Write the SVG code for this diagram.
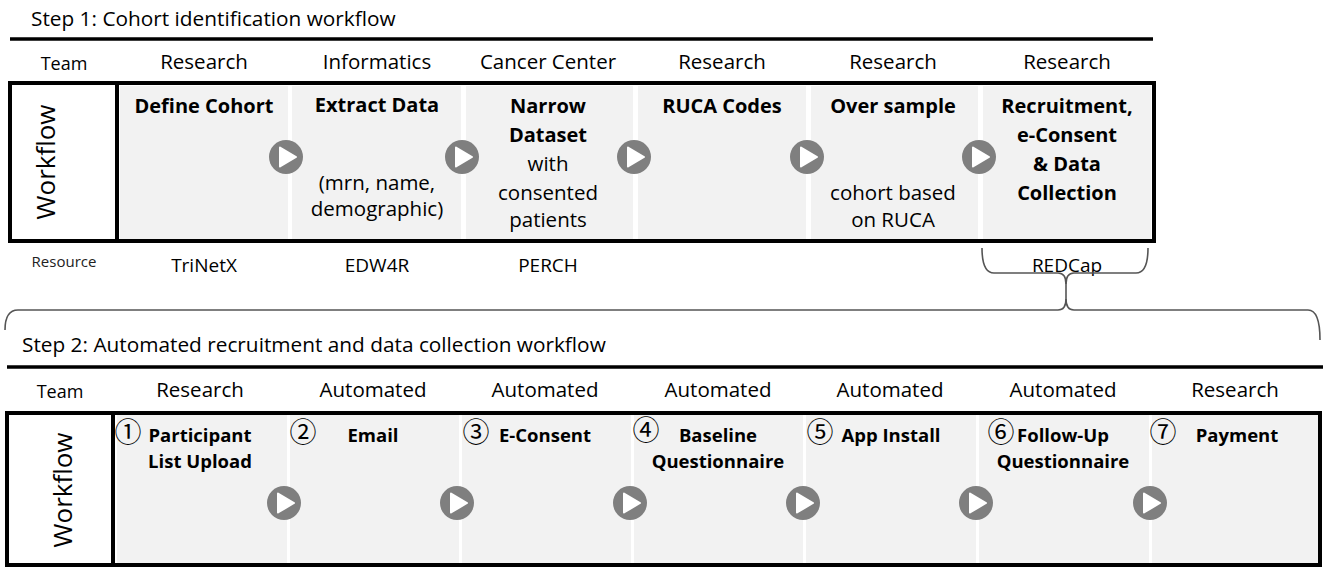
<svg xmlns="http://www.w3.org/2000/svg" width="1323" height="567" viewBox="0 0 1323 567">
<style>
text{font-family:"Open Sans","Liberation Sans",sans-serif;fill:#000}
.title{font-size:20.8px}
.team{font-size:20.5px;text-anchor:middle}
.teamlbl{font-size:18px;text-anchor:middle}
.wf{font-size:26px;text-anchor:middle}
.b1{font-size:20px;font-weight:bold;text-anchor:middle}
.r1{font-size:20.5px;text-anchor:middle}
.b2{font-size:18.5px;font-weight:bold;text-anchor:middle}
.res{font-size:19px;text-anchor:middle}
.reslbl{font-size:15px;text-anchor:middle;fill:#222}
.num{font-family:"Noto Sans CJK JP",sans-serif;font-size:27px;text-anchor:middle}
.cell{fill:#f2f2f2}
.box{fill:none;stroke:#000;stroke-width:4}
.rule{stroke:#000;stroke-width:3.5}
.brace{fill:none;stroke:#555;stroke-width:1.6}
</style>
<defs>
<g id="play">
<circle r="17" fill="#7f7f7f"/>
<path d="M-6,-9.5 L10,0 L-6,9.5 Z" fill="#fff" stroke="#fff" stroke-width="2" stroke-linejoin="round"/>
</g>
</defs>
<rect width="1323" height="567" fill="#fff"/>

<!-- Step 1 -->
<g id="step1-header">
<text class="title" x="31" y="26">Step 1: Cohort identification workflow</text>
<line class="rule" x1="10" y1="39" x2="1153" y2="39"/>
<text class="teamlbl" x="64" y="70">Team</text>
<text class="team" x="204" y="69">Research</text>
<text class="team" x="377" y="69">Informatics</text>
<text class="team" x="548" y="69">Cancer Center</text>
<text class="team" x="722" y="69">Research</text>
<text class="team" x="893" y="69">Research</text>
<text class="team" x="1067" y="69">Research</text>
</g>
<g id="step1-box">
<rect class="cell" x="120" y="86" width="168" height="153"/>
<rect class="cell" x="292" y="86" width="169" height="153"/>
<rect class="cell" x="466" y="86" width="167" height="153"/>
<rect class="cell" x="638" y="86" width="168" height="153"/>
<rect class="cell" x="811" y="86" width="167" height="153"/>
<rect class="cell" x="983" y="86" width="168" height="153"/>
<rect class="box" x="10" y="83" width="1144" height="158"/>
<line x1="117" y1="83" x2="117" y2="241" stroke="#000" stroke-width="4"/>
<text class="wf" transform="translate(55,162) rotate(-90)">Workflow</text>
</g>
<g id="s1-define">
<text class="b1" x="204" y="113">Define Cohort</text>
</g>
<g id="s1-extract">
<text class="b1" x="377" y="112">Extract Data</text>
<text class="r1" x="377" y="190">(mrn, name,</text>
<text class="r1" x="377" y="216">demographic)</text>
</g>
<g id="s1-narrow">
<text class="b1" x="548" y="113">Narrow</text>
<text class="b1" x="548" y="142">Dataset</text>
<text class="r1" x="548" y="171">with</text>
<text class="r1" x="548" y="200">consented</text>
<text class="r1" x="548" y="227">patients</text>
</g>
<g id="s1-ruca">
<text class="b1" x="722" y="113">RUCA Codes</text>
</g>
<g id="s1-oversample">
<text class="b1" x="893" y="113">Over sample</text>
<text class="r1" x="893" y="200">cohort based</text>
<text class="r1" x="893" y="227">on RUCA</text>
</g>
<g id="s1-recruit">
<text class="b1" x="1067" y="113">Recruitment,</text>
<text class="b1" x="1067" y="142">e-Consent</text>
<text class="b1" x="1067" y="171">&amp; Data</text>
<text class="b1" x="1067" y="200">Collection</text>
</g>
<g id="step1-resource">
<text class="reslbl" x="64" y="267">Resource</text>
<text class="res" x="204" y="272">TriNetX</text>
<text class="res" x="377" y="272">EDW4R</text>
<text class="res" x="548" y="272">PERCH</text>
<text class="res" x="1067" y="272">REDCap</text>
</g>

<!-- Step 2 -->
<g id="step2-header">
<text class="title" x="22" y="352">Step 2: Automated recruitment and data collection workflow</text>
<line class="rule" x1="7" y1="367" x2="1323" y2="367"/>
<text class="teamlbl" x="60" y="398">Team</text>
<text class="team" x="200" y="397">Research</text>
<text class="team" x="373" y="397">Automated</text>
<text class="team" x="545" y="397">Automated</text>
<text class="team" x="718" y="397">Automated</text>
<text class="team" x="890" y="397">Automated</text>
<text class="team" x="1063" y="397">Automated</text>
<text class="team" x="1235" y="397">Research</text>
</g>
<g id="step2-box">
<rect class="cell" x="117" y="415" width="170" height="149"/>
<rect class="cell" x="290" y="415" width="169" height="149"/>
<rect class="cell" x="462" y="415" width="169" height="149"/>
<rect class="cell" x="634" y="415" width="169" height="149"/>
<rect class="cell" x="806" y="415" width="170" height="149"/>
<rect class="cell" x="979" y="415" width="170" height="149"/>
<rect class="cell" x="1152" y="415" width="167" height="149"/>
<rect class="box" x="7" y="413" width="1313" height="152"/>
<line x1="113" y1="413" x2="113" y2="565" stroke="#000" stroke-width="4"/>
<text class="wf" transform="translate(72,490) rotate(-90)">Workflow</text>
</g>
<g id="s2-upload">
<text class="num" x="128" y="442">①</text>
<text class="b2" x="200" y="442">Participant</text>
<text class="b2" x="200" y="468">List Upload</text>
</g>
<g id="s2-email">
<text class="num" x="303" y="442">②</text>
<text class="b2" x="373" y="442">Email</text>
</g>
<g id="s2-econsent">
<text class="num" x="476" y="442">③</text>
<text class="b2" x="545" y="442">E-Consent</text>
</g>
<g id="s2-baseline">
<text class="num" x="646" y="440">④</text>
<text class="b2" x="718" y="442">Baseline</text>
<text class="b2" x="718" y="468">Questionnaire</text>
</g>
<g id="s2-app">
<text class="num" x="820" y="442">⑤</text>
<text class="b2" x="891" y="442">App Install</text>
</g>
<g id="s2-followup">
<text class="num" x="1001" y="442">⑥</text>
<text class="b2" x="1063" y="442">Follow-Up</text>
<text class="b2" x="1063" y="468">Questionnaire</text>
</g>
<g id="s2-payment">
<text class="num" x="1163" y="442">⑦</text>
<text class="b2" x="1237" y="442">Payment</text>
</g>

<!-- connectors -->
<g id="connectors">
<use href="#play" x="286" y="157"/>
<use href="#play" x="462" y="157"/>
<use href="#play" x="634" y="157"/>
<use href="#play" x="807" y="157"/>
<use href="#play" x="979" y="157"/>
<use href="#play" x="284" y="503"/>
<use href="#play" x="457" y="503"/>
<use href="#play" x="630" y="503"/>
<use href="#play" x="803" y="503"/>
<use href="#play" x="976" y="503"/>
<use href="#play" x="1150" y="503"/>
<path class="brace" d="M982,248 Q982,273 994,273 L1058,273 Q1066,273 1066,284 L1066,299 Q1066,310 1058,310 L18,310 Q5,310 5,330"/>
<path class="brace" d="M1148,248 Q1148,273 1136,273 L1074,273 Q1066,273 1066,284 M1066,299 Q1066,310 1074,310 L1308,310 Q1320,310 1320,340"/>
</g>
</svg>
